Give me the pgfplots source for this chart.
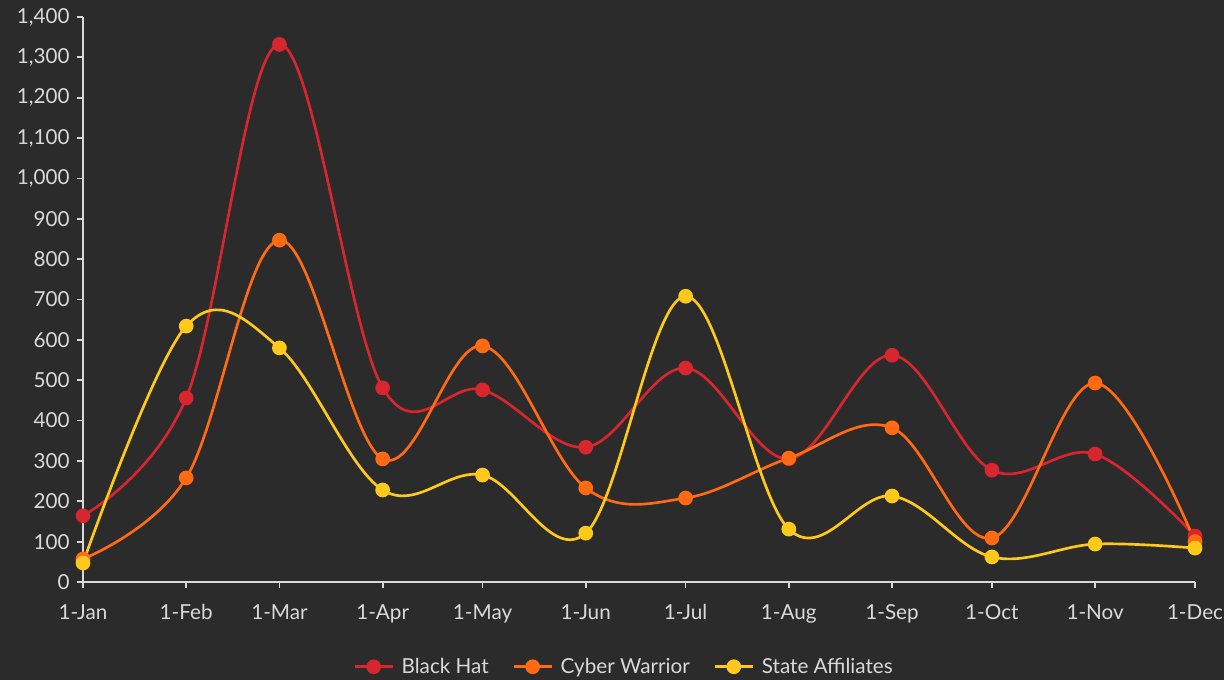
\documentclass[border=0pt]{standalone}
\usepackage{pgfplots}
\pgfplotsset{compat=1.18}
\usepackage{fontspec}
\setmainfont{Lato}
\definecolor{bg}{HTML}{2B2B2B}
\definecolor{fg}{HTML}{D9D9D9}
\definecolor{cRed}{HTML}{D7262E}
\definecolor{cOrange}{HTML}{FF6A13}
\definecolor{cYellow}{HTML}{FFC91B}
\begin{document}
\begin{tikzpicture}
% canvas: 1224 x 680 px at 0.75pt per px
\fill[bg, use as bounding box] (0pt,0pt) rectangle (918pt,510pt);
\begin{axis}[
  at={(62.25pt,73.5pt)}, anchor=south west,
  scale only axis, width=834pt, height=423.75pt,
  xmin=0, xmax=334, ymin=0, ymax=1400,
  axis x line*=bottom, axis y line*=left,
  axis line style={fg, line width=1.3pt, -},
  xtick={0,31,59,90,120,151,181,212,243,273,304,334},
  xticklabels={1-Jan,1-Feb,1-Mar,1-Apr,1-May,1-Jun,1-Jul,1-Aug,1-Sep,1-Oct,1-Nov,1-Dec},
  ytick distance=100,
  tick align=outside,
  major tick length=4.5pt,
  tick style={fg, line width=1.3pt},
  ticklabel style={font=\fontsize{15.5}{17}\selectfont, text=fg},
  /pgf/number format/assume math mode=true,
  /pgf/number format/1000 sep={,},
  xticklabel style={yshift=-9pt},
  yticklabel style={xshift=-2pt},
  legend columns=3,
  legend style={at={(0.487,-0.150)}, anchor=center, draw=none, fill=none,
    text=fg, font=\fontsize{15.5}{17}\selectfont,
    /tikz/every even column/.append style={column sep=16pt},
    /tikz/every odd column/.append style={column sep=4pt}},
  legend image code/.code={
    \draw[#1, mark repeat=2, mark phase=2] plot coordinates {(0,0) (14pt,0) (28pt,0)};},
  every axis plot/.append style={line width=2pt, smooth, tension=0.6,
    mark=*, mark size=4.5pt},
]
\addplot[cRed, mark options={fill=cRed, draw=cRed}] coordinates {
  (0,164) (31,456) (59,1332) (90,481) (120,476) (151,334)
  (181,530) (212,305) (243,562) (273,277) (304,317) (334,114)};
\addlegendentry{Black Hat}
\addplot[cOrange, mark options={fill=cOrange, draw=cOrange}] coordinates {
  (0,57) (31,258) (59,847) (90,305) (120,585) (151,233)
  (181,208) (212,307) (243,382) (273,109) (304,493) (334,100)};
\addlegendentry{Cyber Warrior}
\addplot[cYellow, mark options={fill=cYellow, draw=cYellow}] coordinates {
  (0,47) (31,634) (59,580) (90,228) (120,265) (151,121)
  (181,708) (212,131) (243,213) (273,62) (304,94) (334,84)};
\addlegendentry{State Affiliates}
\end{axis}
\end{tikzpicture}
\end{document}
